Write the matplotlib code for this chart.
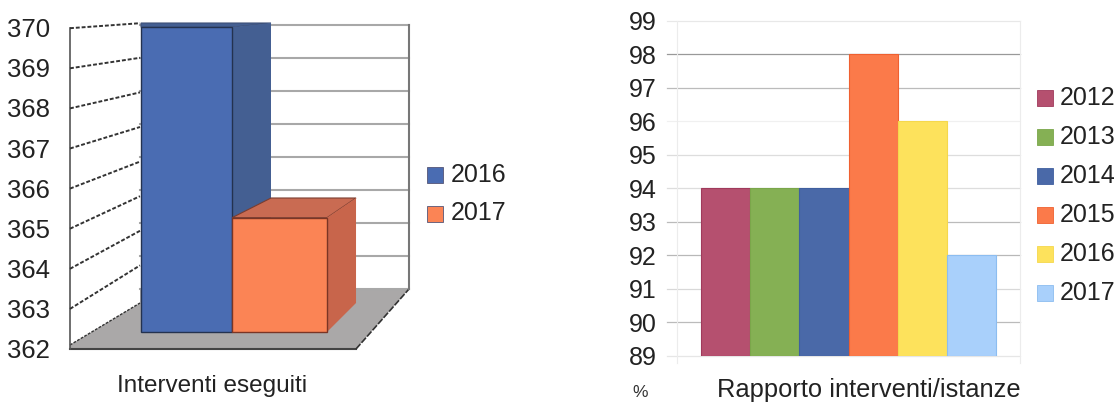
import matplotlib
matplotlib.use('Agg')
import matplotlib.pyplot as plt
from matplotlib.patches import Polygon, Rectangle

plt.rcParams['font.family'] = ['Liberation Sans', 'DejaVu Sans']

# Dati grafico sinistro
left_years = ['2016', '2017']
left_values = [370, 365]
left_colors = ['#4a6cb2', '#fb8455']
left_side_colors = ['#445f92', '#c8654b']
left_top_colors = ['#445f92', '#c96b52']
left_ticks = [362, 363, 364, 365, 366, 367, 368, 369, 370]
left_caption = 'Interventi eseguiti'

# Dati grafico destro
right_years = ['2012', '2013', '2014', '2015', '2016', '2017']
right_values = [94, 94, 94, 98, 96, 92]
right_colors = ['#b5506f', '#85b054', '#4a69a8', '#fb7a4a', '#fde25c', '#a9d0fb']
right_edges = ['#a03a5c', '#7aa64a', '#3f5f9f', '#ef6030', '#f5d84c', '#8cbdf0']
right_ticks = [89, 90, 91, 92, 93, 94, 95, 96, 97, 98, 99]
right_grid = ['#e6e6e6', '#bbbbbb', '#d8d8d8', '#b8b8b8', '#bbbbbb', '#dddddd',
              '#dddddd', '#f0f0f0', '#bbbbbb', '#999999', '#e8e8e8']
right_caption = 'Rapporto interventi/istanze'

W, H = 1117, 403
fig = plt.figure(figsize=(W / 100, H / 100), dpi=100)

# Asse in pixel per il grafico 3D e per i testi
ax = fig.add_axes([0, 0, 1, 1])
ax.set_xlim(0, W)
ax.set_ylim(H, 0)
ax.axis('off')


# Proiezione: piano frontale, piano delle barre, fondo
def wall_y(v, front=True):
    if front:
        return 349 - (v - 362) * 40.1
    return 289 - (v - 362) * 33.0


def bar_y(v, back=False):
    if back:
        return 303 - (v - 362) * 35.0
    return 332 - (v - 362) * 38.1


def back_x(x):
    return 271 + (x - 232) * 0.895


# Pavimento
ax.add_patch(Polygon([(70, 345), (140, 303), (140, 289), (409, 289), (356, 349), (70, 349)],
                     closed=True, fc='#aaa8a8', ec='none', zorder=1))
ax.plot([70, 356], [349, 349], color='#444444', lw=1.5, zorder=2)
ax.plot([356, 409], [349, 289], color='#333333', lw=1.2, ls=(0, (4, 1)), zorder=2)
ax.plot([70, 140], [345, 303], color='#333333', lw=1.0, ls=(0, (2, 1)), zorder=2)

# Pareti
ax.plot([70, 70], [wall_y(370), 349], color='#555555', lw=1.2, zorder=2)
ax.plot([409, 409], [wall_y(370, False), 289], color='#777777', lw=1.5, zorder=2)
for t in left_ticks:
    ax.plot([140, 409], [wall_y(t, False)] * 2, color='#a8a8a8', lw=1.5, zorder=1)
    if t > 362:
        ax.plot([70, 140], [wall_y(t), wall_y(t) - 5 - (370 - t) * 5.5],
                color='#333333', lw=1.4, ls=(0, (2, 1)), zorder=2)
    ax.text(50, wall_y(t) + 2, str(t), ha='right', va='center', fontsize=18.5, color='#222222')

# Barre
bar_w = [91, 95]
x0 = 141
for i, v in enumerate(left_values):
    x1 = x0 + bar_w[i]
    top = bar_y(v)
    top_b = bar_y(v, True)
    base = bar_y(362)
    base_b = bar_y(362, True)
    left_b = x0 if i == 0 else back_x(x0)
    ax.add_patch(Polygon([(left_b, top_b), (back_x(x1), top_b), (x1, top), (x0, top)],
                         fc=left_top_colors[i], ec='#7a3d30' if i else '#3d5078', lw=0.8, zorder=3 + i))
    ax.add_patch(Polygon([(x1, top), (back_x(x1), top_b), (back_x(x1), base_b), (x1, base)],
                         fc=left_side_colors[i], ec='none', zorder=3 + i))
    ax.add_patch(Rectangle((x0, top), x1 - x0, base - top, fc=left_colors[i],
                           ec='#24324f' if i == 0 else '#7a3525', lw=1.0, zorder=3 + i))
    x0 = x1

# Legenda sinistra
for i, year in enumerate(left_years):
    y = 175 + i * 38.5
    ax.add_patch(Rectangle((427, y - 8), 16, 16, fc=left_colors[i], ec='#555577', lw=0.6))
    ax.text(451, y, year, va='center', fontsize=18, color='#222222')

ax.text(212, 386, left_caption, ha='center', va='center', fontsize=17.5, color='#222222')

# Grafico destro: asse vero con le barre
ax2 = fig.add_axes([677 / W, 1 - 355.7 / H, 343 / W, 335 / H])
ax2.patch.set_alpha(0)
ax2.set_ylim(89, 99)
ax2.set_xlim(-0.49, 6.49)
for t, c in zip(right_ticks, right_grid):
    ax2.plot([-0.69, 6.49], [t, t], color=c, lw=0.9, clip_on=False, zorder=1)
for i, v in enumerate(right_values):
    ax2.bar(i, v - 89, bottom=89, width=1.0, align='edge',
            color=right_colors[i], edgecolor=right_edges[i], lw=0.8, zorder=3)
for s in ['top', 'bottom']:
    ax2.spines[s].set_visible(False)
for s in ['left', 'right']:
    ax2.spines[s].set_color('#ececec')
    ax2.spines[s].set_bounds(88.78, 99)
ax2.set_xticks([])
ax2.set_yticks(right_ticks)
ax2.set_yticklabels([str(t) for t in right_ticks], fontsize=18, color='#222222')
ax2.tick_params(axis='y', length=0, pad=14.4)

# Legenda destra
for i, year in enumerate(right_years):
    y = 98 + i * 39
    ax.add_patch(Rectangle((1037, y - 8), 16, 16, fc=right_colors[i], ec=right_edges[i], lw=0.6))
    ax.text(1060, y, year, va='center', fontsize=18, color='#222222')

ax.text(640, 397, '%', ha='center', va='baseline', fontsize=12.5, color='#333333')
ax.text(869, 397, right_caption, ha='center', va='baseline', fontsize=18.4, color='#222222')

fig.savefig('out.png', dpi=100)
